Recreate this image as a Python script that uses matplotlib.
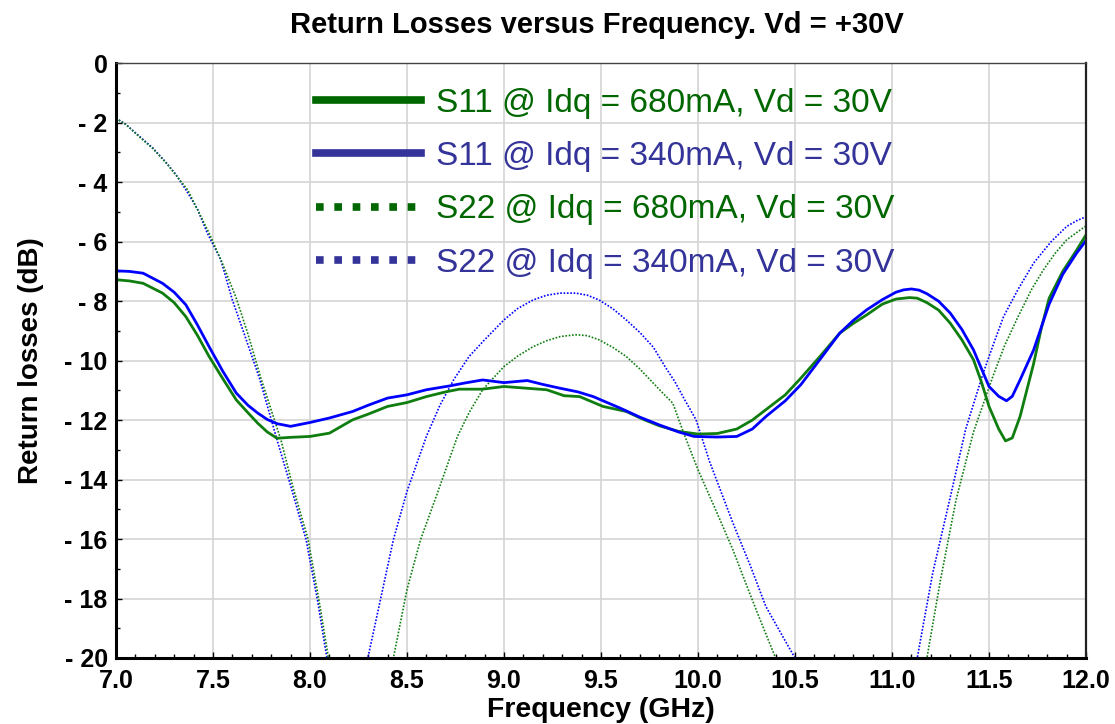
import numpy as np
import matplotlib
matplotlib.use('Agg')
import matplotlib.pyplot as plt
from matplotlib.lines import Line2D
from matplotlib.ticker import MultipleLocator, FixedLocator

# ---------------------------------------------------------------- data

s11_680_f = [7.0, 7.07, 7.14, 7.24, 7.3, 7.36, 7.42, 7.48, 7.55, 7.62, 7.68, 7.73, 7.78, 7.83, 7.9,
             8.0, 8.1, 8.22, 8.3, 8.4, 8.5, 8.6, 8.7, 8.77, 8.89, 9.0, 9.12, 9.22, 9.31, 9.39, 9.51,
             9.63, 9.72, 9.8, 9.9, 10.0, 10.1, 10.2, 10.28, 10.35, 10.45, 10.53, 10.63, 10.73, 10.8,
             10.87, 10.95, 11.02, 11.09, 11.13, 11.18, 11.24, 11.3, 11.36, 11.42, 11.46, 11.5, 11.55,
             11.585, 11.62, 11.66, 11.73, 11.77, 11.81, 11.88, 11.95, 12.0]
s11_680_db = [-7.28, -7.32, -7.40, -7.73, -8.05, -8.52, -9.15, -9.86, -10.6, -11.32, -11.75, -12.10,
              -12.4, -12.61, -12.58, -12.55, -12.44, -11.99, -11.8, -11.54, -11.41, -11.21, -11.05,
              -10.96, -10.96, -10.87, -10.93, -10.98, -11.18, -11.21, -11.54, -11.71, -11.98, -12.19,
              -12.38, -12.47, -12.45, -12.3, -12.0, -11.65, -11.15, -10.59, -9.85, -9.08, -8.75,
              -8.46, -8.1, -7.93, -7.88, -7.9, -8.05, -8.3, -8.74, -9.3, -9.97, -10.7, -11.54, -12.3,
              -12.70, -12.6, -11.88, -10.1, -8.9, -7.9, -7.0, -6.3, -5.77]

s11_340_f = [7.0, 7.07, 7.14, 7.24, 7.3, 7.36, 7.42, 7.48, 7.55, 7.62, 7.68, 7.73, 7.78, 7.83, 7.9,
             8.0, 8.1, 8.22, 8.3, 8.4, 8.5, 8.6, 8.72, 8.8, 8.89, 9.0, 9.12, 9.2, 9.29, 9.38, 9.46,
             9.6, 9.7, 9.8, 9.9, 9.98, 10.1, 10.2, 10.28, 10.35, 10.45, 10.53, 10.63, 10.73, 10.8,
             10.87, 10.95, 11.02, 11.06, 11.1, 11.14, 11.18, 11.24, 11.3, 11.36, 11.42, 11.5, 11.55,
             11.59, 11.62, 11.66, 11.73, 11.81, 11.88, 11.95, 12.0]
s11_340_db = [-6.98, -7.0, -7.06, -7.40, -7.7, -8.12, -8.8, -9.53, -10.35, -11.09, -11.5, -11.76,
              -11.98, -12.12, -12.21, -12.08, -11.93, -11.71, -11.5, -11.26, -11.15, -10.98, -10.85,
              -10.75, -10.65, -10.74, -10.67, -10.8, -10.93, -11.05, -11.21, -11.60, -11.9, -12.16,
              -12.4, -12.55, -12.57, -12.55, -12.3, -11.88, -11.35, -10.81, -9.95, -9.08, -8.65,
              -8.29, -7.95, -7.7, -7.62, -7.59, -7.63, -7.75, -8.0, -8.40, -8.95, -9.64, -10.87,
              -11.2, -11.35, -11.2, -10.65, -9.64, -8.1, -7.1, -6.4, -5.96]

s22_680_f = [7.0, 7.05, 7.12, 7.19, 7.26, 7.31, 7.37, 7.42, 7.48, 7.55, 7.62, 7.68, 7.75, 7.85, 7.91,
             7.99, 8.05, 8.094, 8.26, 8.43, 8.5, 8.57, 8.66, 8.76, 8.82, 8.89, 8.95, 9.0, 9.07, 9.15,
             9.22, 9.29, 9.37, 9.43, 9.49, 9.56, 9.63, 9.7, 9.77, 9.82, 9.87, 9.93, 10.0, 10.09,
             10.18, 10.25, 10.32, 10.4, 10.78, 11.18, 11.25, 11.33, 11.42, 11.52, 11.58, 11.65, 11.72,
             11.78, 11.84, 11.9, 11.95, 12.0]
s22_680_db = [-1.85, -2.05, -2.47, -2.87, -3.36, -3.77, -4.26, -4.92, -5.71, -6.75, -7.9, -9.1,
              -10.65, -12.66, -14.2, -16.0, -18.2, -19.95, -23.0, -20.0, -17.7, -16.02, -14.4,
              -12.55, -11.75, -10.98, -10.55, -10.2, -9.85, -9.53, -9.33, -9.19, -9.13, -9.16,
              -9.30, -9.55, -9.86, -10.28, -10.76, -11.1, -11.43, -12.5, -13.67, -15.0, -16.36,
              -17.55, -18.71, -20.0, -25.0, -20.0, -17.37, -14.69, -12.4, -10.53, -9.5, -8.52, -7.6,
              -6.95, -6.4, -5.94, -5.7, -5.47]

s22_340_f = [7.0, 7.05, 7.12, 7.19, 7.26, 7.31, 7.36, 7.42, 7.47, 7.54, 7.6, 7.66, 7.74, 7.83, 7.9,
             7.98, 8.04, 8.086, 8.19, 8.3, 8.43, 8.5, 8.6, 8.67, 8.74, 8.82, 8.9, 9.0, 9.07, 9.15,
             9.22, 9.29, 9.37, 9.43, 9.49, 9.56, 9.63, 9.7, 9.77, 9.83, 9.88, 9.93, 9.99, 10.06,
             10.18, 10.27, 10.35, 10.43, 10.5, 10.82, 11.13, 11.21, 11.3, 11.38, 11.47, 11.52,
             11.575, 11.65, 11.73, 11.82, 11.9, 11.95, 12.0]
s22_340_db = [-1.85, -2.05, -2.45, -2.85, -3.35, -3.75, -4.25, -4.9, -5.7, -6.6, -7.96, -9.08, -10.6,
              -12.66, -14.2, -16.02, -18.1, -19.95, -23.0, -19.95, -16.02, -14.4, -12.55, -11.5,
              -10.65, -9.86, -9.3, -8.63, -8.25, -7.96, -7.8, -7.73, -7.73, -7.8, -7.96, -8.25,
              -8.63, -9.05, -9.55, -10.2, -10.7, -11.3, -11.99, -13.4, -15.46, -16.9, -18.27, -19.2,
              -20.0, -25.0, -20.0, -17.14, -14.6, -12.3, -10.42, -9.5, -8.52, -7.6, -6.72, -6.0,
              -5.49, -5.3, -5.16]

legend_labels = ['S11 @ Idq = 680mA, Vd = 30V', 'S11 @ Idq = 340mA, Vd = 30V',
                 'S22 @ Idq = 680mA, Vd = 30V', 'S22 @ Idq = 340mA, Vd = 30V']
x_ticks = [7.0, 7.5, 8.0, 8.5, 9.0, 9.5, 10.0, 10.5, 11.0, 11.5, 12.0]
y_ticks = [0, -2, -4, -6, -8, -10, -12, -14, -16, -18, -20]

# ---------------------------------------------------------------- style

plt.rcParams['font.family'] = ['Liberation Sans', 'DejaVu Sans']

GREEN = '#0f7d0f'
BLUE = '#0000ff'
LEG_GREEN = '#006600'
LEG_BLUE = '#333399'

fig = plt.figure(figsize=(11.15, 7.24), dpi=100)
ax = fig.add_axes([0.104, 0.0912, 0.870, 0.8214])

ax.plot(s22_340_f, s22_340_db, color=BLUE, lw=1.2, ls=(0, (1, 1)))
ax.plot(s22_680_f, s22_680_db, color=GREEN, lw=1.2, ls=(0, (1, 1)))
ax.plot(s11_680_f, s11_680_db, color=GREEN, lw=2.0)
ax.plot(s11_340_f, s11_340_db, color=BLUE, lw=2.0)

ax.set_xlim(7.0, 12.0)
ax.set_ylim(-20, 0)
ax.xaxis.set_major_locator(FixedLocator(x_ticks))
ax.yaxis.set_major_locator(FixedLocator(y_ticks))
ax.xaxis.set_minor_locator(MultipleLocator(0.1))
ax.yaxis.set_minor_locator(MultipleLocator(1))
ax.set_xticklabels(['%.1f' % v for v in x_ticks], fontsize=18, fontweight='bold')
ax.set_yticklabels(['0' if v == 0 else '- %d' % abs(v) for v in y_ticks], fontsize=18,
                   fontweight='bold')
ax.tick_params(which='both', direction='in', length=4, width=1)
ax.tick_params(which='minor', length=3)
ax.tick_params(axis='x', pad=8)
ax.tick_params(axis='y', pad=6)
ax.grid(True, which='major', color='#d4d4d4', lw=1.2)
ax.set_axisbelow(True)

for side in ('left', 'bottom'):
    ax.spines[side].set_linewidth(2.2)
    ax.spines[side].set_color('black')
ax.spines['right'].set_linewidth(1.6)
ax.spines['right'].set_color('#222222')
ax.spines['top'].set_linewidth(1.0)
ax.spines['top'].set_color('#444444')

ax.set_xlabel('Frequency (GHz)', fontsize=20.5, fontweight='bold')
ax.xaxis.set_label_coords(0.5, -0.065)
ax.set_ylabel('Return losses (dB)', fontsize=20, fontweight='bold')
ax.yaxis.set_label_coords(-0.074, 0.5)
fig.text(0.535, 0.965, 'Return Losses versus Frequency. Vd = +30V', ha='center', va='center',
         fontsize=21, fontweight='bold')

handles = [Line2D([], [], color=LEG_GREEN, lw=5.5),
           Line2D([], [], color=LEG_BLUE, lw=5.5),
           Line2D([], [], color=LEG_GREEN, lw=5.5, ls=(0, (1, 1.4))),
           Line2D([], [], color=LEG_BLUE, lw=5.5, ls=(0, (1, 1.4)))]
ax.legend(handles, legend_labels, loc='upper left', bbox_to_anchor=(0.189, 0.987), frameon=False,
          fontsize=24, handlelength=3.15, handletextpad=0.45, labelspacing=0.67, borderpad=0,
          labelcolor=[LEG_GREEN, LEG_BLUE, LEG_GREEN, LEG_BLUE])

fig.savefig('out.png', dpi=100)
